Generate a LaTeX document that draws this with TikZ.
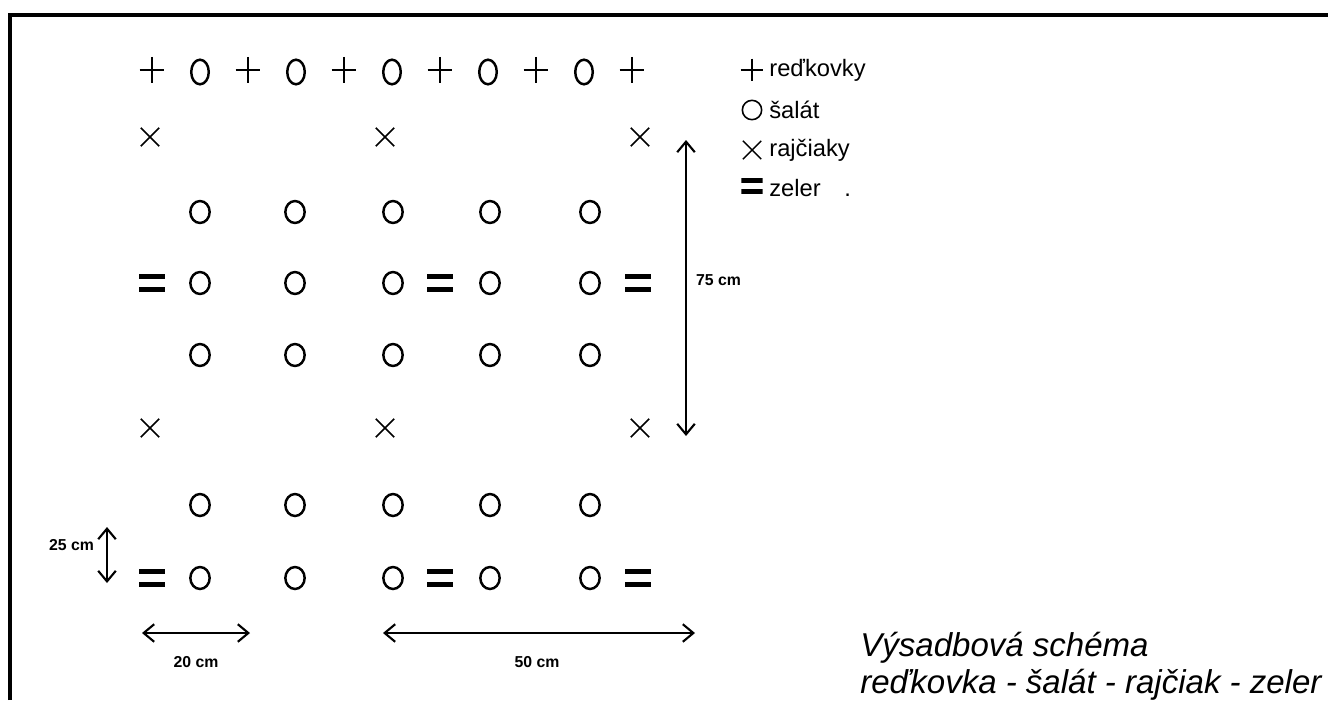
\documentclass[tikz,border=0pt]{standalone}
\usepackage{fontspec}
\setmainfont{Liberation Sans}
\usetikzlibrary{arrows.meta,shapes.geometric,shapes.misc,positioning}

% plant symbols of the plan
\tikzset{
  plant/.style={inner sep=0pt, outer sep=0pt},
  redk/.style={plant, minimum width=14pt, minimum height=15pt,
    path picture={\draw[line width=1.1pt]
      (path picture bounding box.north) -- (path picture bounding box.south)
      (path picture bounding box.west) -- (path picture bounding box.east);}},
  salat/.style={plant, draw, ellipse, line width=1.4pt, minimum width=11pt, minimum height=12.5pt},
  rajc/.style={plant, draw, cross out, line width=0.9pt, minimum size=10.5pt},
  zeler/.style={plant, minimum width=15pt, minimum height=10pt,
    path picture={\fill (path picture bounding box.north west)
      rectangle ([yshift=-2.8pt]path picture bounding box.north east);
      \fill ([yshift=2.8pt]path picture bounding box.south west)
      rectangle (path picture bounding box.south east);}},
  dimline/.style={line width=1pt,
    {Straight Barb[length=6pt,width=10pt,line width=1.2pt]}-{Straight Barb[length=6pt,width=10pt,line width=1.2pt]}},
  dimlbl/.style={font=\fontsize{9}{9}\selectfont\bfseries, inner sep=1pt},
  legtxt/.style={font=\fontsize{13.5}{13.5}\selectfont, anchor=west, inner sep=0pt},
}

\begin{document}
\begin{tikzpicture}[x=0.02cm, y=-0.02cm]
  \useasboundingbox (0,0) rectangle (1328,700);
  % frame (top and left edge only)
  \draw[line width=2.2pt] (10,700) -- (10,15) -- (1328,15);

  % row of radishes and lettuce
  \foreach \x [count=\i] in {152,248,344,440,536,632}
    \node[redk] (top\i) at (\x,70) {};
  \foreach \x [count=\i] in {200,296,392,488,584}
    \node[salat, minimum width=10pt, minimum height=14pt] (tops\i) at (\x,72) {};

  % tomatoes
  \foreach \y [count=\j] in {137,428}
    \foreach \x [count=\i] in {150,385,640}
      \node[rajc] (raj\j\i) at (\x,\y) {};

  % lettuce rows
  \foreach \y [count=\j] in {212,283,355,505,578}
    \foreach \x [count=\i] in {200,295,393,490,590}
      \node[salat] (sal\j\i) at (\x,\y) {};

  % celery
  \foreach \y [count=\j] in {283,578}
    \foreach \x [count=\i] in {152,440,638}
      \node[zeler] (zel\j\i) at (\x,\y) {};

  % legend
  \node[redk, minimum width=13pt, minimum height=13pt] (lg1) at (752,70) {};
  \node[salat, line width=0.9pt, minimum width=11pt, minimum height=11pt] (lg2) at (752,110) {};
  \node[rajc, line width=0.8pt] (lg3) at (752,150) {};
  \node[zeler, minimum width=12pt, minimum height=9pt] (lg4) at (752,186) {};
  \node[legtxt] (lt1) at (769,70) {reďkovky};
  \node[legtxt] (lt2) at (769,110) {šalát};
  \node[legtxt] (lt3) at (769,150) {rajčiaky};
  \node[legtxt] (lt4) at (769,188) {zeler\quad.};

  % dimensions
  \coordinate (v1) at (686,140);
  \coordinate (v2) at (686,436);
  \draw[dimline] (v1) -- (v2);
  \node[dimlbl, anchor=west] (l75) at (694,280) {75 cm};

  \coordinate (s1) at (107,527);
  \coordinate (s2) at (107,583);
  \draw[dimline] (s1) -- (s2);
  \node[dimlbl, anchor=east] (l25) at (96,545) {25 cm};

  \coordinate (h1) at (142,633);
  \coordinate (h2) at (250,633);
  \draw[dimline] (h1) -- (h2);
  \node[dimlbl] (l20) at (196,662) {20 cm};

  \coordinate (f1) at (383,633);
  \coordinate (f2) at (695,633);
  \draw[dimline] (f1) -- (f2);
  \node[dimlbl] (l50) at (537,662) {50 cm};

  % caption
  \node[font=\fontsize{18.8}{21}\selectfont\itshape, align=left, anchor=north west, inner sep=0pt]
    (capt) at (860,632) {Výsadbová schéma\\reďkovka - šalát - rajčiak - zeler};
\end{tikzpicture}
\end{document}
